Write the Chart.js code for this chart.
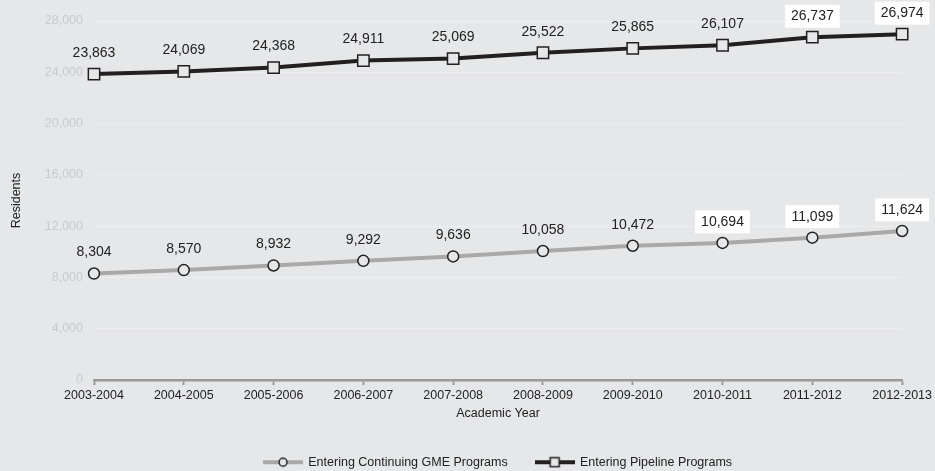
<!DOCTYPE html>
<html>
<head>
<meta charset="utf-8">
<script src="https://cdn.jsdelivr.net/npm/chart.js@4/dist/chart.umd.min.js"></script>
<style>
  html, body { margin: 0; padding: 0; background: #e6e7e9; }
  #wrap { width: 935px; height: 471px; }
</style>
</head>
<body>
<div id="wrap"><canvas id="c" width="935" height="471"></canvas></div>
<script>
const categories = ["2003-2004","2004-2005","2005-2006","2006-2007","2007-2008","2008-2009","2009-2010","2010-2011","2011-2012","2012-2013"];
const continuingGME = [8304, 8570, 8932, 9292, 9636, 10058, 10472, 10694, 11099, 11624];
const pipeline = [23863, 24069, 24368, 24911, 25069, 25522, 25865, 26107, 26737, 26974];
const seriesNames = ["Entering Continuing GME Programs", "Entering Pipeline Programs"];
const yTicks = [0, 4000, 8000, 12000, 16000, 20000, 24000, 28000];
const boxedLabels = [
  [false,false,false,false,false,false,false,true,true,true],
  [false,false,false,false,false,false,false,false,true,true]
];

const BG = '#e6e7e9';
const FONT = "'Liberation Sans', Arial, sans-serif";
const GRAY = '#a9a9a9';
const BLACK = '#231f20';

function legendMarker(kind) {
  const c = document.createElement('canvas');
  c.width = 40; c.height = 12;
  const x = c.getContext('2d');
  x.lineWidth = 4;
  x.strokeStyle = kind === 'circle' ? GRAY : BLACK;
  x.beginPath(); x.moveTo(0, 6); x.lineTo(40, 6); x.stroke();
  x.fillStyle = BG;
  x.lineWidth = 1.5;
  x.strokeStyle = kind === 'circle' ? '#222' : BLACK;
  if (kind === 'circle') {
    x.beginPath(); x.arc(20, 6, 4, 0, Math.PI * 2); x.fill(); x.stroke();
  } else {
    x.fillRect(15.5, 1.5, 9, 9); x.strokeRect(15.5, 1.5, 9, 9);
  }
  return c;
}
const markers = [legendMarker('circle'), legendMarker('rect')];

const dataLabels = {
  id: 'dataLabels',
  afterDatasetsDraw(chart) {
    const ctx = chart.ctx;
    ctx.save();
    ctx.font = '14px ' + FONT;
    ctx.textAlign = 'center';
    ctx.textBaseline = 'middle';
    chart.data.datasets.forEach((ds, i) => {
      const meta = chart.getDatasetMeta(i);
      meta.data.forEach((pt, j) => {
        const txt = ds.data[j].toLocaleString('en-US');
        const y = pt.y - 21;
        if (boxedLabels[i][j]) {
          const w = ctx.measureText(txt).width + 12;
          ctx.fillStyle = '#ffffff';
          ctx.fillRect(pt.x - w / 2, y - 11.5, w, 23);
        }
        ctx.fillStyle = '#222222';
        ctx.fillText(txt, pt.x, y);
      });
    });
    ctx.restore();
  }
};

new Chart(document.getElementById('c'), {
  type: 'line',
  data: {
    labels: categories,
    datasets: [
      {
        label: seriesNames[0],
        data: continuingGME,
        borderColor: GRAY,
        borderWidth: 4,
        pointStyle: 'circle',
        pointRadius: 5.5,
        pointBackgroundColor: BG,
        pointBorderColor: '#222',
        pointBorderWidth: 1.5,
        tension: 0
      },
      {
        label: seriesNames[1],
        data: pipeline,
        borderColor: BLACK,
        borderWidth: 4,
        pointStyle: 'rect',
        pointRadius: 8,
        pointBackgroundColor: BG,
        pointBorderColor: BLACK,
        pointBorderWidth: 1.5,
        tension: 0
      }
    ]
  },
  options: {
    responsive: false,
    animation: false,
    layout: { padding: { top: 21, left: 0, right: 0, bottom: -7.5 } },
    plugins: {
      tooltip: { enabled: false },
      legend: {
        position: 'bottom',
        fullSize: false,
        labels: {
          usePointStyle: true,
          pointStyleWidth: 38,
          padding: 28,
          color: '#222',
          font: { family: FONT, size: 12.5 },
          generateLabels: (chart) => chart.data.datasets.map((ds, i) => ({
            text: ds.label,
            pointStyle: markers[i],
            fillStyle: BG,
            strokeStyle: BG,
            lineWidth: 0,
            hidden: false,
            datasetIndex: i,
            fontColor: '#222'
          }))
        }
      }
    },
    scales: {
      x: {
        type: 'category',
        offset: false,
        afterFit: (s) => { s.height = 48; },
        grid: { display: true, drawOnChartArea: false, drawTicks: true, tickLength: 5, tickColor: '#999', tickWidth: 2 },
        border: { display: true, color: '#999', width: 2.5 },
        ticks: { color: '#222', font: { family: FONT, size: 12.5 }, padding: 3, maxRotation: 0, autoSkip: false },
        title: { display: true, text: 'Academic Year', color: '#222', font: { family: FONT, size: 12.5 }, padding: { top: 4, bottom: 7 } }
      },
      y: {
        min: 0,
        max: 28000,
        afterFit: (s) => { s.width = 94; },
        afterBuildTicks: (s) => { s.ticks = yTicks.map(v => ({ value: v })); },
        grid: { color: '#eeeef0', lineWidth: 1, drawTicks: false },
        border: { display: false },
        ticks: { color: '#c9cacc', font: { family: FONT, size: 12.5 }, padding: 11,
                 callback: (v) => v.toLocaleString('en-US') },
        title: { display: true, text: 'Residents', color: '#222', font: { family: FONT, size: 12.5 }, padding: { top: 9, bottom: 0 } }
      }
    }
  },
  plugins: [dataLabels]
});
</script>
</body>
</html>
